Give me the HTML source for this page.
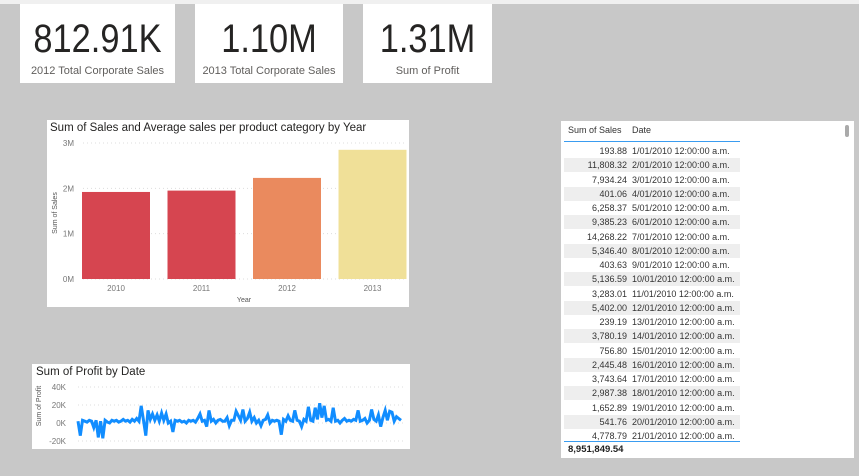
<!DOCTYPE html>
<html><head><meta charset="utf-8"><style>
body{margin:0;width:859px;height:476px;background:#c8c8c8;position:relative;overflow:hidden;font-family:"Liberation Sans",sans-serif;}
.card{position:absolute;background:#fff;}
.kpi .v{position:absolute;left:-20px;right:-20px;top:13px;text-align:center;font-size:40px;color:#252423;transform:scaleX(0.86);}
.kpi .l{position:absolute;left:-10px;right:-10px;top:61px;text-align:center;font-size:11px;color:#605e5c;white-space:nowrap;}
.row{position:absolute;left:3px;width:176px;height:14px;font-size:9px;color:#333;line-height:14px;white-space:nowrap;}
.row .s{position:absolute;right:113px;}
.row .d{position:absolute;left:68px;}
</style></head><body>
<div style="position:absolute;left:0;top:0;width:859px;height:4px;background:#f0f0f0"></div>
<div class="card kpi" style="left:20px;top:4px;width:155px;height:79px"><div class="v">812.91K</div><div class="l">2012 Total Corporate Sales</div></div>
<div class="card kpi" style="left:195px;top:4px;width:148px;height:79px"><div class="v">1.10M</div><div class="l">2013 Total Corporate Sales</div></div>
<div class="card kpi" style="left:363px;top:4px;width:129px;height:79px"><div class="v">1.31M</div><div class="l">Sum of Profit</div></div>

<div class="card" style="left:47px;top:120px;width:362px;height:187px">
<svg id="bar" width="362" height="187"></svg></div>

<div class="card" style="left:32px;top:364px;width:378px;height:85px">
<svg id="line" width="378" height="85"></svg></div>

<div class="card" style="left:561px;top:121px;width:293px;height:337px">
<div style="position:absolute;left:7px;top:4px;font-size:9px;color:#333">Sum of Sales</div>
<div style="position:absolute;left:71px;top:4px;font-size:9px;color:#333">Date</div>
<div style="position:absolute;left:3px;top:20px;width:176px;height:1px;background:#3a9cf0"></div>
<div id="rows"></div>
<div style="position:absolute;left:3px;top:320px;width:176px;height:1px;background:#3a9cf0"></div>
<div style="position:absolute;left:7px;top:323px;font-size:9.5px;font-weight:bold;color:#222">8,951,849.54</div>
<div style="position:absolute;left:284px;top:4px;width:4px;height:12px;border-radius:2px;background:#aaa"></div>
</div>

<script>
const ns="http://www.w3.org/2000/svg";
function mk(p,t,a){const e=document.createElementNS(ns,t);for(const k in a)e.setAttribute(k,a[k]);p.appendChild(e);return e;}
// Bar chart data
const years=["2010","2011","2012","2013"];
const sales=[1.92,1.95,2.23,2.85];
const barColors=["#d64550","#d64550","#ea8a5e","#f0e098"];
const yTicks=[0,1,2,3];
const bar=document.getElementById('bar');
const by0=159,by1=23,bx0=35,bstep=85.5;
const ys=v=>by0-(v/3)*(by0-by1);
let t=mk(bar,'text',{x:3,y:11,'font-size':11.5,fill:'#252423'});t.textContent="Sum of Sales and Average sales per product category by Year";

yTicks.forEach(v=>{const y=ys(v);
 const g=mk(bar,'line',{x1:36,x2:360,y1:y,y2:y,stroke:'#ddd','stroke-dasharray':'1,3'});
 const l=mk(bar,'text',{x:27,y:y+3,'font-size':8,fill:'#777','text-anchor':'end'});l.textContent=v+"M";});
years.forEach((yr,i)=>{const x=bx0+i*bstep;
 const r=mk(bar,'rect',{x:x,y:ys(sales[i]),width:68,height:by0-ys(sales[i]),fill:barColors[i]});
 const l=mk(bar,'text',{x:x+34,y:171,'font-size':8,fill:'#777','text-anchor':'middle'});l.textContent=yr;});
t=mk(bar,'text',{x:197,y:182,'font-size':7,fill:'#555','text-anchor':'middle'});t.textContent="Year";
t=mk(bar,'text',{x:0,y:0,'font-size':7,fill:'#555','text-anchor':'middle',transform:'translate(10,93) rotate(-90)'});t.textContent="Sum of Sales";

// Line chart data
const profitTicks=[40,20,0,-20];
const profit=[2,-14,3,2,1,3,2,-5,3,-16,2,-17,3,1,0,3,2,3,1,2,4,2,3,1,4,2,5,2,19,3,-14,14,4,10,3,9,2,11,3,10,0,2,-10,3,2,3,1,2,0,3,2,3,1,5,10,2,3,-4,14,2,4,0,3,4,2,2,6,-3,3,3,13,8,3,15,2,5,12,2,6,0,3,-3,3,4,9,0,3,2,3,2,-13,4,2,8,3,2,14,3,2,-4,4,2,18,3,2,17,4,22,6,19,3,4,2,17,2,3,0,3,5,2,3,2,4,3,14,2,3,5,0,3,15,4,2,9,-4,6,14,3,13,12,2,7,5,3];
const line=document.getElementById('line');
const py0=59,pscale=(59-23)/40,lx0=46,lx1=369;
const yp=v=>py0-v*pscale;
t=mk(line,'text',{x:4,y:11,'font-size':11.5,fill:'#252423'});t.textContent="Sum of Profit by Date";
profitTicks.forEach(v=>{const y=yp(v);
 const g=mk(line,'line',{x1:46,x2:372,y1:y,y2:y,stroke:'#ddd','stroke-dasharray':'1,3'});
 const l=mk(line,'text',{x:34,y:y+3,'font-size':8,fill:'#777','text-anchor':'end'});l.textContent=v+"K";});
t=mk(line,'text',{x:0,y:0,'font-size':7,fill:'#555','text-anchor':'middle',transform:'translate(9,42) rotate(-90)'});t.textContent="Sum of Profit";
const pts=profit.map((v,i)=>(lx0+i*(lx1-lx0)/(profit.length-1)).toFixed(1)+","+yp(v).toFixed(1)).join(" ");
const pl=mk(line,'polyline',{points:pts,fill:'none',stroke:'#118dff','stroke-width':3});

// Table
const tblSales=["193.88","11,808.32","7,934.24","401.06","6,258.37","9,385.23","14,268.22","5,346.40","403.63","5,136.59","3,283.01","5,402.00","239.19","3,780.19","756.80","2,445.48","3,743.64","2,987.38","1,652.89","541.76","4,778.79"];
const rows=document.getElementById('rows');
tblSales.forEach((s,i)=>{const r=document.createElement('div');r.className='row';
 
 
 r.style.top=(23+i*14.25)+'px';if(i%2==1)r.style.background='#eeeeee';
 r.innerHTML='<span class="s">'+s+'</span><span class="d">'+(i+1)+'/01/2010 12:00:00 a.m.</span>';rows.appendChild(r);});
</script>
</body></html>
